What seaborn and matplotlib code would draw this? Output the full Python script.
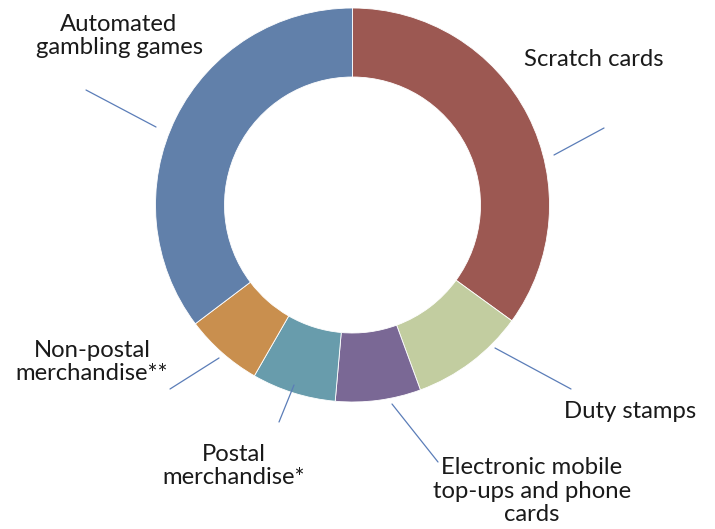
import matplotlib
matplotlib.use("Agg")
import matplotlib.pyplot as plt
import seaborn as sns

categories = ["Scratch cards", "Duty stamps", "Electronic mobile\ntop-ups and phone\ncards",
              "Postal\nmerchandise*", "Non-postal\nmerchandise**", "Automated\ngambling games"]
shares = [35.0, 9.4, 7.0, 6.9, 6.4, 35.3]
colors = ["#9C5852", "#C2CDA0", "#7A6895", "#689CAC", "#C98F4E", "#6180AA"]

# label placement (pixel coords in a 715x529 image) and leader lines
label_pos = [(594, 60), (630, 412), (532, 491), (234, 466), (92, 362), (119, 36)]
leaders = [((554, 155), (604, 128)), ((495, 348), (571, 389)), ((392, 404), (438, 462)),
           ((294, 385), (279, 422)), ((219, 358), (170, 389)), ((156, 127), (86, 90))]

W, H = 715, 529
sns.set_theme(style="white")
plt.rcParams["font.family"] = ["Lato", "DejaVu Sans"]

fig = plt.figure(figsize=(W / 100, H / 100), dpi=100)
ax = fig.add_axes([0, 0, 1, 1])
ax.set_xlim(0, W)
ax.set_ylim(0, H)
ax.set_aspect("equal")
ax.axis("off")

cx, cy, r = 352.5, H - 205, 197
ax.pie(shares, colors=colors, startangle=90, counterclock=False,
       center=(cx, cy), radius=r,
       wedgeprops=dict(width=r - 128, edgecolor="white", linewidth=0.6))
ax.set_xlim(0, W)
ax.set_ylim(0, H)

for (px, py), lab in zip(label_pos, categories):
    ax.text(px, H - py, lab, ha="center", va="center", fontsize=17.2,
            color="#1a1a1a", linespacing=1.17)

for (a, b) in leaders:
    ax.plot([a[0], b[0]], [H - a[1], H - b[1]], color="#5B7DB8", lw=0.9)

fig.savefig("out.png", dpi=100)
